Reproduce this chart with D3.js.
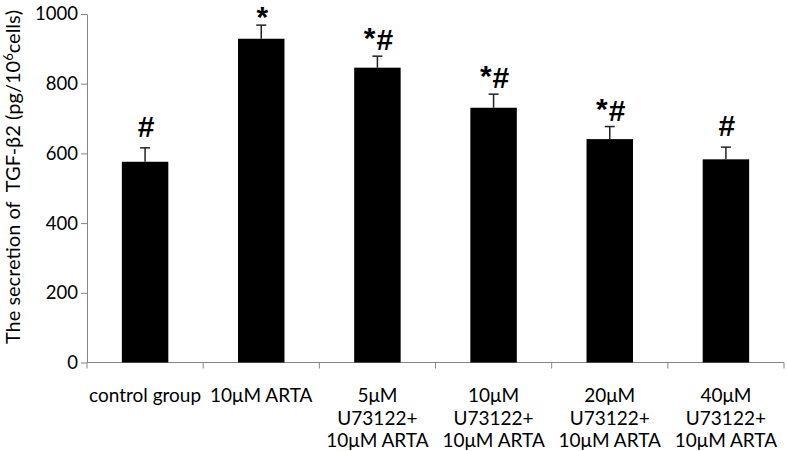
<!DOCTYPE html>
<html><head><meta charset="utf-8">
<script src="https://cdn.jsdelivr.net/npm/d3@7/dist/d3.min.js"></script>
<style>body{margin:0;background:#fff}svg{display:block}</style>
</head><body>
<svg id="c" width="787" height="451"></svg>
<script>
const categories = [
  ["control group"],
  ["10\u03bcM ARTA"],
  ["5\u03bcM", "U73122+", "10\u03bcM ARTA"],
  ["10\u03bcM", "U73122+", "10\u03bcM ARTA"],
  ["20\u03bcM", "U73122+", "10\u03bcM ARTA"],
  ["40\u03bcM", "U73122+", "10\u03bcM ARTA"]
];
const values = [576, 929, 846, 731, 641, 583];
const errors = [40, 39, 33, 39, 36, 35];
const marks = ["#", "*", "*#", "*#", "*#", "#"];
const yTicks = [0, 200, 400, 600, 800, 1000];

const svg = d3.select("#c");
const L = 87, R = 784, T = 14, B = 362.5;
const font = "Lato, 'Open Sans', sans-serif";

const x = d3.scaleBand().domain(d3.range(values.length)).range([L, R])
  .paddingInner(0.6).paddingOuter(0.3);
const y = d3.scaleLinear().domain([0, 1000]).range([B, T]);

// y axis
const ya = svg.append("g").attr("transform", `translate(${L},0)`)
  .call(d3.axisLeft(y).tickValues(yTicks).tickFormat(d3.format("d")).tickSize(6).tickPadding(3).tickSizeOuter(0));
ya.select(".domain").attr("stroke", "#868686");
ya.selectAll(".tick line").attr("stroke", "#868686");
ya.selectAll(".tick text").attr("font-family", font).attr("font-size", 18.5).attr("fill", "#000");

// x axis
const step = x.step();
const xa = svg.append("g");
xa.append("line").attr("x1", L).attr("x2", R).attr("y1", B).attr("y2", B).attr("stroke", "#868686");
xa.selectAll("line.t").data(d3.range(values.length + 1)).enter().append("line")
  .attr("x1", i => L + i * step).attr("x2", i => L + i * step)
  .attr("y1", B).attr("y2", B + 6).attr("stroke", "#868686");

// bars
svg.selectAll("rect.bar").data(values).enter().append("rect")
  .attr("x", (d, i) => x(i)).attr("width", x.bandwidth())
  .attr("y", d => y(d)).attr("height", d => B - y(d))
  .attr("fill", "#000");

// error bars
const eb = svg.append("g").attr("stroke", "#222").attr("stroke-width", 1.5);
values.forEach((v, i) => {
  const cx = x(i) + x.bandwidth() / 2;
  eb.append("line").attr("x1", cx).attr("x2", cx).attr("y1", y(v)).attr("y2", y(v + errors[i]));
  eb.append("line").attr("x1", cx - 5).attr("x2", cx + 5).attr("y1", y(v + errors[i])).attr("y2", y(v + errors[i]));
});

// significance marks
marks.forEach((m, i) => {
  const top = y(values[i] + errors[i]);
  const hasHash = m.includes("#");
  const t = svg.append("text")
    .attr("x", x(i) + x.bandwidth() / 2 + 1)
    .attr("y", hasHash ? top - (m === "#" ? 11 : 6) : top + 2)
    .attr("text-anchor", "middle")
    .attr("font-family", "'Liberation Sans', Arial, sans-serif")
    .attr("font-weight", "bold")
    .attr("font-size", 30)
    .attr("fill", "#000");
  m.split("").forEach(ch => {
    if (ch === "*" && hasHash) {
      t.append("tspan").attr("dy", -2).text(ch);
    } else if (ch === "#" && m.length > 1) {
      t.append("tspan").attr("dy", 2).attr("dx", 1).text(ch);
    } else {
      t.append("tspan").text(ch);
    }
  });
});

// x labels
categories.forEach((lines, i) => {
  const t = svg.append("text").attr("text-anchor", "middle")
    .attr("font-family", font).attr("font-size", 19).attr("fill", "#000");
  lines.forEach((ln, j) => {
    t.append("tspan").attr("x", x(i) + x.bandwidth() / 2).attr("y", 402 + j * 22.5).text(ln);
  });
});

// y title
const yt = svg.append("text")
  .attr("transform", `translate(20,177) rotate(-90)`)
  .attr("text-anchor", "middle")
  .attr("font-family", font).attr("font-size", 20).attr("fill", "#000")
  .attr("xml:space", "preserve");
yt.append("tspan").text("The secretion of  TGF-\u03b22 (pg/10");
yt.append("tspan").attr("font-size", 13).attr("dy", -7).text("6");
yt.append("tspan").attr("dy", 7).text("cells)");
</script>
</body></html>
